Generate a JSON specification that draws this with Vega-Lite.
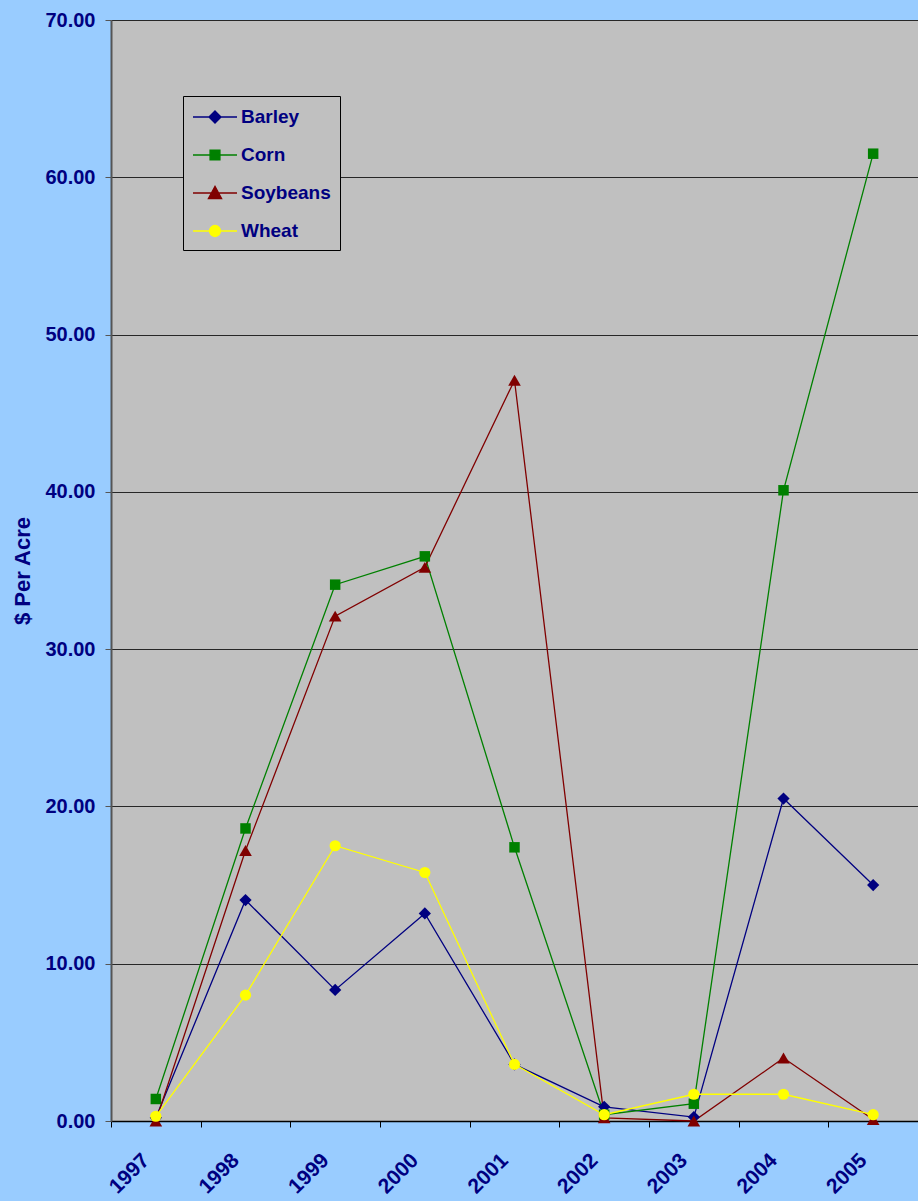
{
  "$schema": "https://vega.github.io/schema/vega-lite/v6.json",
  "autosize": {"type": "none"},
  "width": 807,
  "height": 1101,
  "padding": {"left": 111, "top": 20, "right": 0, "bottom": 80},
  "background": "#99CCFF",
  "config": {
    "view": {"fill": "#C0C0C0", "stroke": null},
    "font": "Liberation Sans",
    "axis": {"labelFont": "Liberation Sans", "labelFontWeight": "bold", "labelColor": "#000080", "titleFont": "Liberation Sans", "titleFontWeight": "bold", "titleColor": "#000080"}
  },
  "data": {
    "values": [
      {"year": "1997", "crop": "Barley", "value": 0.2},
      {"year": "1998", "crop": "Barley", "value": 14.05},
      {"year": "1999", "crop": "Barley", "value": 8.33},
      {"year": "2000", "crop": "Barley", "value": 13.2},
      {"year": "2001", "crop": "Barley", "value": 3.6},
      {"year": "2002", "crop": "Barley", "value": 0.9},
      {"year": "2003", "crop": "Barley", "value": 0.25},
      {"year": "2004", "crop": "Barley", "value": 20.5},
      {"year": "2005", "crop": "Barley", "value": 15.0},
      {"year": "1997", "crop": "Corn", "value": 1.4},
      {"year": "1998", "crop": "Corn", "value": 18.6},
      {"year": "1999", "crop": "Corn", "value": 34.1},
      {"year": "2000", "crop": "Corn", "value": 35.9},
      {"year": "2001", "crop": "Corn", "value": 17.4},
      {"year": "2002", "crop": "Corn", "value": 0.4},
      {"year": "2003", "crop": "Corn", "value": 1.1},
      {"year": "2004", "crop": "Corn", "value": 40.1},
      {"year": "2005", "crop": "Corn", "value": 61.5},
      {"year": "1997", "crop": "Soybeans", "value": 0.0},
      {"year": "1998", "crop": "Soybeans", "value": 17.2},
      {"year": "1999", "crop": "Soybeans", "value": 32.1},
      {"year": "2000", "crop": "Soybeans", "value": 35.2},
      {"year": "2001", "crop": "Soybeans", "value": 47.1},
      {"year": "2002", "crop": "Soybeans", "value": 0.2},
      {"year": "2003", "crop": "Soybeans", "value": 0.0},
      {"year": "2004", "crop": "Soybeans", "value": 4.0},
      {"year": "2005", "crop": "Soybeans", "value": 0.1},
      {"year": "1997", "crop": "Wheat", "value": 0.3},
      {"year": "1998", "crop": "Wheat", "value": 8.0},
      {"year": "1999", "crop": "Wheat", "value": 17.5},
      {"year": "2000", "crop": "Wheat", "value": 15.8},
      {"year": "2001", "crop": "Wheat", "value": 3.6},
      {"year": "2002", "crop": "Wheat", "value": 0.4},
      {"year": "2003", "crop": "Wheat", "value": 1.7},
      {"year": "2004", "crop": "Wheat", "value": 1.7},
      {"year": "2005", "crop": "Wheat", "value": 0.4}
    ]
  },
  "encoding": {
    "x": {
      "field": "year", "type": "ordinal",
      "scale": {"type": "band", "paddingInner": 0, "paddingOuter": 0},
      "axis": {
        "title": null, "tickBand": "extent", "labelAngle": -45, "labelAlign": "right", "labelBaseline": "middle",
        "labelFontSize": 21, "labelPadding": 30, "labelOffset": -10, "tickSize": 6, "tickColor": "#000000", "domainColor": "#000000", "domainWidth": 1.5, "grid": false
      }
    },
    "y": {
      "field": "value", "type": "quantitative",
      "scale": {"domain": [0, 70], "nice": false},
      "axis": {
        "title": "$ Per Acre", "titleFontSize": 22, "titlePadding": 10,
        "values": [0, 10, 20, 30, 40, 50, 60, 70], "format": ".2f",
        "labelFontSize": 20, "labelPadding": 10, "tickSize": 6, "tickColor": "#555555",
        "domainColor": "#555555", "domainWidth": 2, "grid": true, "gridColor": "#000000", "gridWidth": 1, "gridOpacity": 0.8
      }
    },
    "color": {
      "field": "crop", "type": "nominal",
      "scale": {"domain": ["Barley", "Corn", "Soybeans", "Wheat"], "range": ["#000080", "#008000", "#800000", "#FFFF00"]},
      "legend": {
        "title": null, "orient": "none", "legendX": 72, "legendY": 76,
        "strokeColor": "#000000", "fillColor": "#C0C0C0",
        "padding": 9, "rowPadding": 16, "symbolSize": 484, "labelOffset": 14, "symbolOffset": 11,
        "labelFont": "Liberation Sans", "labelFontWeight": "bold", "labelFontSize": 19, "labelColor": "#000080", "labelLimit": 200,
        "symbolStrokeWidth": 1.3,
        "encode": {
          "symbols": {
            "update": {
              "shape": {"signal": "datum.value === 'Barley' ? 'M-2,0H2M0,-0.55L0.55,0L0,0.55L-0.55,0Z' : datum.value === 'Corn' ? 'M-2,0H2M-0.45,-0.45H0.45V0.45H-0.45Z' : datum.value === 'Soybeans' ? 'M-2,0H2M0,-0.6L0.6,0.5H-0.6Z' : 'M-2,0H2M0.5,0A0.5,0.5,0,1,1,-0.5,0A0.5,0.5,0,1,1,0.5,0Z'"},
              "fill": {"scale": "color", "field": "value"},
              "stroke": {"scale": "color", "field": "value"},
              "fillOpacity": {"value": 1},
              "strokeOpacity": {"value": 1}
            }
          }
        }
      }
    }
  },
  "layer": [
    {"mark": {"type": "line", "strokeWidth": 1.3}},
    {"transform": [{"filter": "datum.crop === 'Barley'"}], "mark": {"type": "point", "shape": "diamond", "filled": true, "opacity": 1, "size": 150}},
    {"transform": [{"filter": "datum.crop === 'Corn'"}], "mark": {"type": "point", "shape": "square", "filled": true, "opacity": 1, "size": 110}},
    {"transform": [{"filter": "datum.crop === 'Soybeans'"}], "mark": {"type": "point", "shape": "triangle-up", "filled": true, "opacity": 1, "size": 160}},
    {"transform": [{"filter": "datum.crop === 'Wheat'"}], "mark": {"type": "point", "shape": "circle", "filled": true, "opacity": 1, "size": 125}}
  ]
}
